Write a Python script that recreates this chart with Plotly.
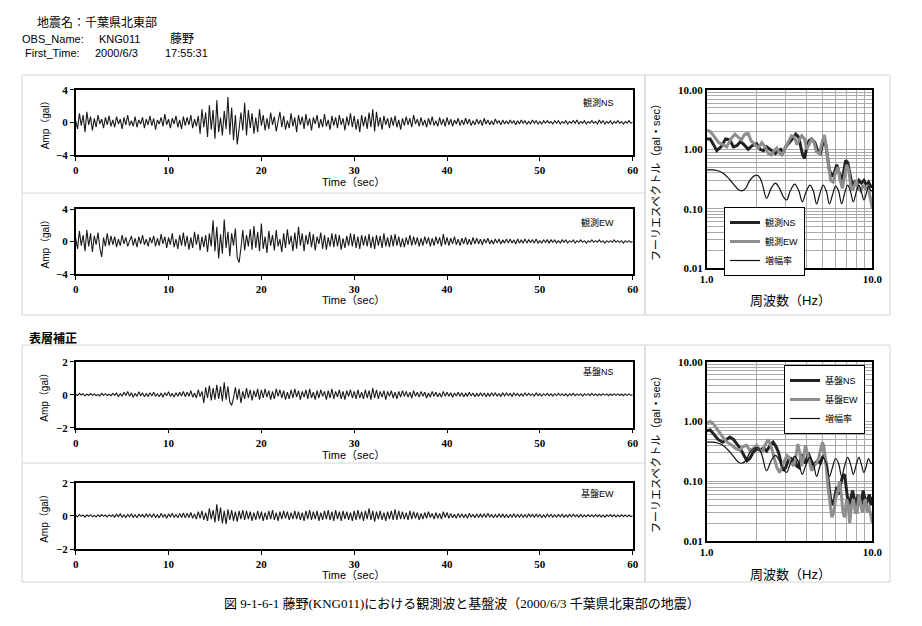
import plotly.graph_objects as go

# ---------------- data ----------------
DT = 0.2

obs_ns = [
    0.2,-0.8,1.1,-0.4,0.9,-1.2,1.3,-0.3,0.7,-1.0,0.5,-0.6,0.9,-0.2,0.4,-0.7,0.6,-0.3,0.8,-0.5,
    0.3,-0.6,0.7,-0.2,0.4,-0.8,0.6,-0.3,0.9,-0.4,0.2,-0.5,0.7,-0.6,0.3,-0.2,0.6,-0.7,0.4,-0.3,
    0.8,-0.4,0.5,-0.9,0.3,-0.2,0.6,-0.5,1.0,-0.3,0.4,-0.7,0.5,-0.2,0.8,-0.6,0.3,-0.8,0.7,-0.4,
    0.6,-0.3,0.9,-0.7,0.4,-0.5,0.8,-1.4,1.6,-0.6,1.2,-1.8,2.1,-0.9,1.5,-2.0,2.7,-1.2,0.6,-1.6,
    1.4,-0.8,3.1,-1.5,1.8,-2.2,0.9,-2.7,-0.8,1.2,-1.0,2.4,-1.6,1.5,-0.7,1.1,-1.4,0.6,-1.2,1.6,
    -0.4,0.9,-1.0,0.5,-0.8,1.2,-0.3,0.7,-1.1,0.4,1.3,-0.6,0.8,-0.9,0.2,-0.7,1.1,-0.5,0.6,-1.2,
    0.9,-0.3,0.7,-0.8,1.0,-0.4,0.5,-1.0,0.6,-0.2,0.9,-0.7,0.4,-0.6,1.0,-0.5,0.3,-0.9,0.8,-0.4,
    0.6,-0.7,0.9,-0.3,0.5,-1.0,0.7,-0.4,1.1,-0.6,0.8,-0.9,0.4,-1.2,0.9,-0.5,0.7,-0.8,1.2,-0.6,
    1.6,-1.1,1.3,-0.5,0.6,-0.9,0.8,-0.3,0.5,-0.7,0.6,-0.4,0.8,-0.6,0.3,-0.9,0.5,-0.4,0.7,-0.3,
    0.5,-0.6,0.9,-0.2,0.4,-0.5,0.6,-0.4,0.3,-0.6,0.5,-0.3,0.7,-0.4,0.2,-0.5,0.6,-0.3,0.4,-0.5,
    0.6,-0.3,0.4,-0.5,0.3,-0.2,0.5,-0.4,0.3,-0.3,0.5,-0.2,0.4,-0.4,0.2,-0.3,0.4,-0.2,0.3,-0.4,
    0.5,-0.2,0.3,-0.3,0.2,-0.3,0.4,-0.1,0.2,-0.3,0.3,-0.2,0.2,-0.2,0.3,-0.1,0.2,-0.3,0.2,-0.2,
    0.3,-0.1,0.2,-0.2,0.1,-0.2,0.3,-0.1,0.2,-0.2,0.1,-0.2,0.2,-0.1,0.2,-0.1,0.1,-0.2,0.2,-0.1,
    0.2,-0.2,0.1,-0.1,0.2,-0.2,0.1,-0.1,0.2,-0.1,0.3,-0.2,0.1,-0.1,0.2,-0.2,0.1,-0.1,0.2,-0.1,
    0.1,-0.2,0.3,-0.1,0.2,-0.2,0.1,-0.1,0.2,-0.2,0.1,-0.1,0.2,-0.1,0.1,-0.2,0.1,-0.1,0.2,-0.1,
    0.0]

obs_ew = [
    0.4,-0.9,1.3,-0.5,0.8,-1.2,1.4,-0.6,1.0,-1.3,0.7,-0.4,1.1,-0.8,-1.9,0.5,-0.6,1.0,-0.5,0.7,
    -0.4,0.6,-0.7,0.3,-0.5,0.8,-0.3,0.5,-0.6,0.2,0.7,-0.5,0.4,-0.7,0.6,-0.3,0.8,-0.4,0.3,-0.6,
    0.5,-0.2,0.7,-0.6,0.4,-0.5,0.9,-0.3,0.6,-0.8,0.5,-0.4,1.0,-0.7,0.3,-0.9,0.8,-0.5,1.1,-0.6,
    0.7,-1.0,0.5,-0.8,1.2,-0.4,0.9,-1.1,0.6,-0.7,0.8,-1.3,1.0,-0.6,2.6,-1.2,1.8,-2.1,0.9,-1.5,
    2.7,-0.8,1.2,-1.8,1.0,-0.5,1.6,-2.0,-2.6,-0.8,1.4,-1.1,0.8,-0.6,1.5,-1.0,1.9,-0.8,1.2,-1.2,
    2.2,-0.9,0.6,-1.4,1.3,-0.5,0.8,-1.1,1.4,-0.6,0.3,-1.3,1.0,-0.8,1.5,-0.4,0.7,-1.2,1.1,-0.9,
    1.8,-0.5,1.0,-1.2,0.8,-0.4,1.2,-0.7,0.9,-1.1,0.6,-0.3,1.1,-0.9,0.8,-1.0,0.5,-0.6,1.0,-0.7,
    0.9,-0.6,0.8,-1.0,0.4,-0.8,0.7,-0.5,1.0,-0.6,0.9,-0.8,0.6,-0.9,0.8,-0.5,0.7,-0.6,0.9,-0.8,
    0.6,-0.9,0.8,-0.5,0.7,-0.8,1.0,-0.6,0.5,-0.7,0.8,-0.6,0.9,-0.5,0.6,-0.7,0.4,-0.7,0.5,-0.4,
    0.8,-0.5,0.6,-0.4,0.5,-0.6,0.4,-0.5,0.6,-0.3,0.5,-0.6,0.4,-0.5,0.6,-0.3,0.5,-0.6,0.9,-0.4,
    0.5,-0.5,0.4,-0.3,0.6,-0.4,0.3,-0.5,0.4,-0.3,0.5,-0.4,0.3,-0.4,0.5,-0.3,0.4,-0.3,0.3,-0.4,
    0.3,-0.2,0.4,-0.3,0.2,-0.3,0.3,-0.2,0.3,-0.3,0.2,-0.2,0.3,-0.2,0.3,-0.2,0.2,-0.3,0.3,-0.2,
    0.2,-0.2,0.3,-0.2,0.2,-0.1,0.2,-0.2,0.3,-0.2,0.1,-0.2,0.2,-0.1,0.2,-0.2,0.2,-0.1,0.2,-0.2,
    0.1,-0.2,0.2,-0.1,0.2,-0.2,0.1,-0.1,0.2,-0.2,0.1,-0.1,0.2,-0.1,0.1,-0.2,0.1,-0.1,0.2,-0.1,
    0.1,-0.1,0.2,-0.1,0.1,-0.2,0.1,-0.1,0.1,-0.1,0.2,-0.1,0.1,-0.1,0.1,-0.2,0.1,-0.1,0.1,-0.1,
    0.0]

base_ns = [
    0.03,-0.05,0.08,-0.02,0.06,-0.08,0.04,-0.05,0.07,-0.03,0.05,-0.06,0.02,-0.07,0.08,-0.04,0.06,-0.05,0.03,-0.06,
    0.08,-0.04,0.1,-0.12,0.06,-0.08,0.15,-0.05,0.2,-0.1,0.12,-0.15,0.08,-0.1,0.18,-0.06,0.1,-0.12,0.07,-0.1,
    0.12,-0.08,0.15,-0.1,0.06,-0.12,0.1,-0.15,0.12,-0.06,0.18,-0.1,0.08,-0.14,0.12,-0.1,0.15,-0.08,0.2,-0.12,
    0.15,-0.1,0.25,-0.15,0.1,-0.2,0.3,-0.12,0.2,-0.5,0.45,-0.2,0.55,-0.35,0.4,-0.3,0.6,-0.25,0.5,-0.4,
    0.75,-0.3,0.5,-0.45,-0.65,-0.2,0.45,-0.3,0.35,-0.5,0.2,-0.25,0.4,-0.2,0.3,-0.35,0.25,-0.15,0.35,-0.3,
    0.3,-0.2,0.35,-0.15,0.25,-0.3,0.2,-0.25,0.35,-0.1,0.3,-0.2,0.25,-0.3,0.15,-0.25,0.3,-0.2,0.35,-0.15,
    0.25,-0.3,0.2,-0.15,0.3,-0.25,0.35,-0.2,0.15,-0.3,0.25,-0.2,0.3,-0.1,0.2,-0.3,0.25,-0.2,0.35,-0.25,
    0.2,-0.15,0.3,-0.25,0.2,-0.3,0.25,-0.1,0.3,-0.2,0.2,-0.25,0.3,-0.2,0.15,-0.25,0.3,-0.2,0.25,-0.3,
    0.4,-0.2,0.3,-0.25,0.2,-0.15,0.25,-0.3,0.2,-0.1,0.25,-0.2,0.15,-0.25,0.2,-0.15,0.25,-0.1,0.2,-0.15,
    0.15,-0.2,0.25,-0.1,0.15,-0.15,0.2,-0.1,0.15,-0.2,0.1,-0.15,0.2,-0.1,0.15,-0.12,0.1,-0.15,0.2,-0.1,
    0.15,-0.1,0.12,-0.15,0.1,-0.08,0.15,-0.1,0.12,-0.12,0.08,-0.1,0.15,-0.08,0.1,-0.12,0.08,-0.1,0.12,-0.08,
    0.1,-0.12,0.08,-0.1,0.12,-0.06,0.1,-0.08,0.06,-0.1,0.12,-0.08,0.1,-0.06,0.08,-0.1,0.1,-0.06,0.08,-0.08,
    0.06,-0.08,0.1,-0.06,0.08,-0.05,0.06,-0.08,0.1,-0.06,0.05,-0.08,0.06,-0.05,0.08,-0.06,0.05,-0.08,0.06,-0.05,
    0.08,-0.05,0.06,-0.06,0.05,-0.08,0.06,-0.04,0.08,-0.06,0.05,-0.05,0.06,-0.08,0.05,-0.04,0.06,-0.06,0.08,-0.05,
    0.05,-0.06,0.04,-0.05,0.06,-0.04,0.05,-0.06,0.04,-0.05,0.06,-0.04,0.05,-0.05,0.04,-0.06,0.05,-0.04,0.05,-0.04,
    0.0]

base_ew = [
    0.04,-0.06,0.08,-0.03,0.05,-0.08,0.06,-0.04,0.07,-0.05,0.03,-0.07,0.06,-0.05,0.08,-0.03,0.05,-0.06,0.07,-0.04,
    0.06,-0.08,0.1,-0.05,0.12,-0.08,0.06,-0.1,0.08,-0.06,0.12,-0.1,0.07,-0.12,0.1,-0.05,0.08,-0.1,0.12,-0.06,
    0.1,-0.08,0.12,-0.1,0.06,-0.12,0.15,-0.08,0.1,-0.14,0.12,-0.06,0.15,-0.1,0.08,-0.12,0.15,-0.1,0.18,-0.12,
    0.15,-0.1,0.2,-0.15,0.12,-0.2,0.25,-0.15,0.3,-0.25,0.2,-0.3,0.45,-0.2,0.35,-0.4,0.7,-0.3,0.5,-0.45,
    0.3,-0.5,0.4,-0.25,0.35,-0.3,0.25,-0.35,0.3,-0.2,0.35,-0.25,0.3,-0.2,0.25,-0.3,0.2,-0.25,0.3,-0.2,
    0.25,-0.3,0.2,-0.25,0.3,-0.2,0.35,-0.25,0.2,-0.3,0.25,-0.2,0.3,-0.15,0.25,-0.25,0.2,-0.2,0.3,-0.2,
    0.25,-0.25,0.2,-0.3,0.3,-0.2,0.35,-0.25,0.25,-0.2,0.3,-0.3,0.2,-0.25,0.3,-0.2,0.35,-0.25,0.25,-0.3,
    0.35,-0.2,0.25,-0.3,0.3,-0.2,0.25,-0.25,0.2,-0.3,0.3,-0.25,0.35,-0.2,0.25,-0.3,0.3,-0.2,0.45,-0.25,
    0.3,-0.35,0.25,-0.2,0.3,-0.25,0.2,-0.3,0.25,-0.2,0.3,-0.25,0.4,-0.25,0.3,-0.2,0.25,-0.2,0.2,-0.25,
    0.3,-0.2,0.25,-0.15,0.2,-0.25,0.15,-0.2,0.2,-0.15,0.25,-0.1,0.15,-0.2,0.2,-0.15,0.15,-0.2,0.25,-0.1,
    0.2,-0.15,0.15,-0.12,0.1,-0.15,0.15,-0.1,0.12,-0.12,0.1,-0.15,0.15,-0.08,0.1,-0.12,0.12,-0.1,0.1,-0.08,
    0.12,-0.1,0.15,-0.08,0.1,-0.12,0.08,-0.1,0.12,-0.08,0.1,-0.1,0.08,-0.12,0.1,-0.08,0.12,-0.1,0.08,-0.08,
    0.1,-0.08,0.08,-0.1,0.12,-0.06,0.08,-0.08,0.1,-0.06,0.08,-0.1,0.06,-0.08,0.1,-0.06,0.08,-0.08,0.06,-0.08,
    0.08,-0.06,0.1,-0.08,0.06,-0.08,0.08,-0.06,0.1,-0.05,0.06,-0.08,0.08,-0.06,0.05,-0.06,0.08,-0.05,0.06,-0.06,
    0.08,-0.05,0.06,-0.06,0.05,-0.08,0.06,-0.04,0.08,-0.05,0.06,-0.06,0.05,-0.05,0.06,-0.04,0.05,-0.06,0.05,-0.04,
    0.0]

# Fourier spectra (frequency in Hz, amplitude in gal*sec)
top_ns_f = [1.0,1.05,1.1,1.15,1.22,1.3,1.38,1.45,1.52,1.6,1.68,1.78,1.88,2.0,2.1,2.2,2.3,2.4,2.5,2.6,2.7,2.8,2.9,3.0,3.15,3.3,3.45,3.6,3.7,3.8,3.9,4.0,4.15,4.3,4.5,4.7,4.85,5.0,5.2,5.35,5.5,5.7,5.9,6.1,6.3,6.5,6.7,6.9,7.1,7.3,7.5,7.7,7.9,8.1,8.3,8.6,8.9,9.2,9.5,9.8,10.0]
top_ns_v = [1.5,1.5,1.2,0.95,1.1,1.5,1.45,1.1,1.15,1.35,1.2,1.0,1.15,1.25,1.0,0.95,1.1,1.0,0.9,0.85,0.95,1.0,0.9,1.1,1.3,1.5,1.8,1.6,1.1,0.8,0.7,1.0,1.4,1.5,1.3,0.9,0.85,1.2,1.4,0.8,0.45,0.35,0.4,0.55,0.4,0.3,0.4,0.65,0.6,0.4,0.28,0.25,0.3,0.26,0.3,0.27,0.3,0.25,0.28,0.23,0.25]

top_ew_f = [1.0,1.05,1.1,1.18,1.25,1.32,1.4,1.48,1.55,1.62,1.7,1.78,1.85,1.95,2.05,2.15,2.25,2.35,2.45,2.55,2.65,2.75,2.85,2.95,3.1,3.25,3.4,3.5,3.6,3.75,3.9,4.0,4.15,4.3,4.45,4.6,4.8,5.0,5.15,5.3,5.45,5.6,5.8,6.0,6.2,6.4,6.6,6.8,7.0,7.2,7.4,7.6,7.8,8.0,8.2,8.5,8.8,9.1,9.4,9.7,9.85,10.0]
top_ew_v = [2.1,2.0,1.7,1.3,1.2,1.1,1.5,1.8,1.6,1.45,1.8,1.85,1.4,1.2,1.05,1.3,1.1,0.85,0.8,0.95,1.05,0.85,0.8,1.0,1.3,1.7,1.6,1.2,1.4,1.7,1.5,1.0,1.2,1.5,1.3,0.9,0.85,1.4,1.75,1.0,0.5,0.3,0.28,0.4,0.5,0.3,0.22,0.35,0.55,0.45,0.25,0.2,0.25,0.3,0.22,0.2,0.25,0.22,0.25,0.15,0.12,0.1]

amp_f = [1.0,1.08,1.15,1.25,1.35,1.45,1.55,1.63,1.72,1.82,1.95,2.05,2.15,2.3,2.45,2.6,2.75,2.9,3.04,3.2,3.4,3.6,3.78,3.95,4.2,4.4,4.61,4.8,5.05,5.3,5.5,5.75,6.0,6.25,6.53,6.8,7.1,7.4,7.68,8.0,8.3,8.6,8.9,9.2,9.5,9.8,10.0]
amp_v = [0.45,0.45,0.44,0.4,0.33,0.26,0.21,0.2,0.22,0.3,0.36,0.36,0.28,0.15,0.22,0.27,0.22,0.16,0.14,0.2,0.26,0.2,0.13,0.18,0.25,0.2,0.12,0.17,0.25,0.19,0.12,0.17,0.24,0.2,0.12,0.18,0.25,0.19,0.13,0.19,0.25,0.19,0.14,0.18,0.24,0.2,0.2]

bot_ns_f = [1.0,1.05,1.1,1.17,1.25,1.32,1.38,1.45,1.52,1.6,1.68,1.75,1.82,1.9,2.0,2.1,2.2,2.3,2.42,2.52,2.62,2.72,2.82,2.9,3.0,3.1,3.2,3.3,3.4,3.5,3.6,3.7,3.8,3.9,4.0,4.1,4.2,4.35,4.5,4.7,4.85,5.0,5.15,5.3,5.45,5.6,5.75,5.9,6.1,6.3,6.45,6.6,6.8,6.95,7.1,7.25,7.4,7.6,7.8,8.0,8.2,8.4,8.6,8.8,9.0,9.2,9.4,9.6,9.8,10.0]
bot_ns_v = [0.7,0.72,0.62,0.5,0.45,0.5,0.55,0.5,0.42,0.35,0.27,0.22,0.24,0.3,0.35,0.33,0.36,0.32,0.4,0.45,0.38,0.3,0.2,0.15,0.17,0.22,0.25,0.2,0.24,0.18,0.17,0.25,0.28,0.2,0.22,0.3,0.25,0.18,0.2,0.22,0.2,0.25,0.27,0.18,0.09,0.05,0.04,0.05,0.08,0.06,0.09,0.12,0.13,0.08,0.05,0.04,0.05,0.07,0.05,0.04,0.06,0.05,0.04,0.07,0.05,0.04,0.05,0.06,0.04,0.055]

bot_ew_f = [1.0,1.05,1.1,1.17,1.25,1.33,1.42,1.5,1.58,1.66,1.74,1.82,1.9,2.0,2.08,2.16,2.25,2.35,2.45,2.55,2.65,2.75,2.85,2.95,3.05,3.15,3.25,3.35,3.45,3.55,3.65,3.75,3.85,3.95,4.05,4.15,4.3,4.45,4.6,4.75,4.9,5.0,5.1,5.25,5.4,5.55,5.7,5.85,6.0,6.2,6.35,6.5,6.65,6.8,7.0,7.15,7.3,7.5,7.7,7.9,8.1,8.3,8.5,8.7,8.9,9.1,9.3,9.5,9.7,9.85,10.0]
bot_ew_v = [0.95,1.0,0.9,0.7,0.55,0.45,0.4,0.35,0.33,0.38,0.4,0.33,0.35,0.4,0.35,0.3,0.4,0.5,0.38,0.25,0.17,0.14,0.17,0.22,0.27,0.25,0.2,0.18,0.25,0.42,0.3,0.18,0.25,0.4,0.3,0.2,0.15,0.18,0.2,0.25,0.38,0.45,0.38,0.2,0.08,0.04,0.025,0.03,0.05,0.07,0.1,0.06,0.03,0.025,0.05,0.04,0.02,0.04,0.05,0.03,0.03,0.06,0.04,0.03,0.04,0.05,0.03,0.04,0.03,0.025,0.02]

time_ticks = [0, 10, 20, 30, 40, 50, 60]
freq_ticks = [1, 2, 3, 4, 5, 6, 7, 8, 9, 10]
freq_labels = ["1.0", "", "", "", "", "", "", "", "", "10.0"]
spec_ticks = [0.01,0.02,0.03,0.04,0.05,0.06,0.07,0.08,0.09,
              0.1,0.2,0.3,0.4,0.5,0.6,0.7,0.8,0.9,
              1,2,3,4,5,6,7,8,9,10]
spec_labels = ["0.01"] + [""] * 8 + ["0.10"] + [""] * 8 + ["1.00"] + [""] * 8 + ["10.00"]

# ---------------- figure ----------------
W, H = 922, 626
def px(x):
    return x / W
def py(y):
    return 1 - y / H

CJK = "Liberation Sans, Noto Sans CJK JP"
SERIF = "Liberation Serif, Noto Sans CJK JP"
tickfont = dict(family="Liberation Serif", size=11, color="black", weight="bold")

fig = go.Figure()

def t_axis(v):
    return [i * DT for i in range(len(v))]

series = [(obs_ns, "x", "y"), (obs_ew, "x2", "y2"), (base_ns, "x3", "y3"), (base_ew, "x4", "y4")]
for vals, xa, ya in series:
    fig.add_trace(go.Scatter(x=t_axis(vals), y=vals, mode="lines", xaxis=xa, yaxis=ya,
                             line=dict(color="#1a1a1a", width=1.1), showlegend=False,
                             hoverinfo="skip"))

spec_sets = [
    ("x5", "y5", "legend", top_ns_f, top_ns_v, top_ew_f, top_ew_v, "観測NS", "観測EW"),
    ("x6", "y6", "legend2", bot_ns_f, bot_ns_v, bot_ew_f, bot_ew_v, "基盤NS", "基盤EW"),
]
for xa, ya, lg, nf, nv, ef, ev, nname, ename in spec_sets:
    fig.add_trace(go.Scatter(x=nf, y=nv, mode="lines", name=nname, xaxis=xa, yaxis=ya, legend=lg,
                             line=dict(color="#222222", width=3)))
    fig.add_trace(go.Scatter(x=ef, y=ev, mode="lines", name=ename, xaxis=xa, yaxis=ya, legend=lg,
                             line=dict(color="#8e8e8e", width=3)))
    fig.add_trace(go.Scatter(x=amp_f, y=amp_v, mode="lines", name="増幅率", xaxis=xa, yaxis=ya,
                             legend=lg, line=dict(color="#111111", width=1.2, shape="spline")))

def time_xaxis(anchor):
    return dict(domain=[px(75.7), px(632.7)], anchor=anchor, range=[0, 60], tickvals=time_ticks,
                ticks="outside", ticklen=4, tickwidth=1, tickcolor="black",
                showline=True, linecolor="black", linewidth=1.5, mirror=True, automargin=False,
                showgrid=False, zeroline=False, tickfont=tickfont)

def time_yaxis(anchor, top, bottom, lim):
    return dict(domain=[py(bottom), py(top)], anchor=anchor, range=[-lim, lim],
                tickvals=[-lim, 0, lim], ticks="outside", ticklen=4, tickwidth=1,
                tickcolor="black", showline=True, linecolor="black", linewidth=1.5, mirror=True,
                automargin=False, showgrid=False, zeroline=False, tickfont=tickfont)

def spec_xaxis(anchor):
    return dict(domain=[px(706.7), px(872.3)], anchor=anchor, type="log", range=[0, 1],
                tickvals=freq_ticks, ticktext=freq_labels, ticks="", showgrid=True,
                gridcolor="#aaaaaa", gridwidth=0.7, showline=True, linecolor="black",
                linewidth=1.5, mirror=True, zeroline=False, automargin=False, tickfont=tickfont)

def spec_yaxis(anchor, top, bottom):
    return dict(domain=[py(bottom), py(top)], anchor=anchor, type="log", range=[-2, 1],
                tickvals=spec_ticks, ticktext=spec_labels, ticks="", showgrid=True,
                gridcolor="#aaaaaa", gridwidth=0.7, showline=True, linecolor="black",
                linewidth=1.5, mirror=True, zeroline=False, automargin=False, tickfont=tickfont)

legend_style = dict(xanchor="left", yanchor="top", bgcolor="white", bordercolor="black",
                    borderwidth=1, font=dict(family=CJK, size=9, color="black"),
                    tracegroupgap=0, itemwidth=30)

fig.update_layout(
    width=W, height=H, margin=dict(l=0, r=0, t=0, b=0, autoexpand=False),
    paper_bgcolor="white", plot_bgcolor="white",
    xaxis=time_xaxis("y"), yaxis=time_yaxis("x", 89.7, 155, 4),
    xaxis2=time_xaxis("y2"), yaxis2=time_yaxis("x2", 209, 274, 4),
    xaxis3=time_xaxis("y3"), yaxis3=time_yaxis("x3", 361.7, 427.7, 2),
    xaxis4=time_xaxis("y4"), yaxis4=time_yaxis("x4", 482.7, 549, 2),
    xaxis5=spec_xaxis("y5"), yaxis5=spec_yaxis("x5", 90, 268),
    xaxis6=spec_xaxis("y6"), yaxis6=spec_yaxis("x6", 361.7, 541),
    legend=dict(x=px(724), y=py(207), **legend_style),
    legend2=dict(x=px(784), y=py(365), **legend_style),
    showlegend=True,
)

# panel frames (light grey boxes)
box_col = "#d4d4d4"
frames = [(22, 75, 645, 315), (645, 75, 890, 315), (22, 345, 645, 582), (645, 345, 890, 582)]
shapes = []
for x0, y0, x1, y1 in frames:
    shapes.append(dict(type="rect", xref="paper", yref="paper", x0=px(x0), x1=px(x1),
                       y0=py(y1), y1=py(y0), line=dict(color=box_col, width=1)))
for yy in (193, 463):
    shapes.append(dict(type="line", xref="paper", yref="paper", x0=px(22), x1=px(645),
                       y0=py(yy), y1=py(yy), line=dict(color=box_col, width=1)))
fig.update_layout(shapes=shapes)

ann = []
def text(x, y, s, size=11, family=CJK, xanchor="left", angle=0, weight="normal"):
    ann.append(dict(x=px(x), y=py(y), xref="paper", yref="paper", text=s, showarrow=False,
                    xanchor=xanchor, yanchor="middle", textangle=angle,
                    font=dict(family=family, size=size, color="black", weight=weight)))

# header
text(35, 23, "地震名：千葉県北東部", 12)
text(20, 39, "OBS_Name:", 11)
text(97, 39, "KNG011", 11)
text(168, 39, "藤野", 12)
text(23, 53, "First_Time:", 11)
text(93, 53, "2000/6/3", 11)
text(163, 53, "17:55:31", 11)
text(27, 338, "表層補正", 12, weight="bold")

# time-series labels
for top, bot, lab_y, title_y, lab in [(89.7, 155, 103, 182, "観測NS"), (209, 274, 222, 300, "観測EW"),
                                       (361.7, 427.7, 371, 455, "基盤NS"), (482.7, 549, 493, 575, "基盤EW")]:
    text(45, (top + bot) / 2, "Amp（gal）", 10, angle=-90, xanchor="center")
    text(353, title_y, "Time（sec）", 11, xanchor="center")
    text(616, lab_y, lab, 9, xanchor="right")

# spectrum labels
text(656, 180, "フーリエスペクトル（gal・sec）", 11, angle=-90, xanchor="center")
text(790, 300, "周波数（Hz）", 13, xanchor="center")
text(656, 452, "フーリエスペクトル（gal・sec）", 11, angle=-90, xanchor="center")
text(790, 574, "周波数（Hz）", 13, xanchor="center")

# caption
text(462, 603, "図 9-1-6-1 藤野(KNG011)における観測波と基盤波（2000/6/3 千葉県北東部の地震）", 13,
     family=SERIF, xanchor="center")

fig.update_layout(annotations=ann)
fig.write_html("out.html", config={"displayModeBar": False},
               post_script="document.body.style.margin='0';document.body.style.overflow='hidden';")
